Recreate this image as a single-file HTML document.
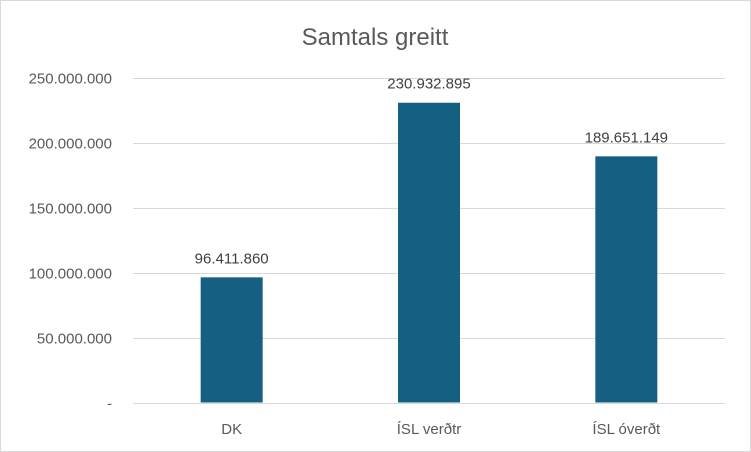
<!DOCTYPE html>
<html><head><meta charset="utf-8">
<style>
body{margin:0;background:#fff;}
#c{position:relative;width:751px;height:452px;overflow:hidden;font-family:"Liberation Sans",sans-serif;}
svg text{font-family:"Liberation Sans",sans-serif;}
</style></head>
<body>
<div id="c">
<svg id="s" width="751" height="452">
<rect x="0.5" y="0.5" width="750" height="451" fill="#fff" stroke="#d9d9d9"/>
<text x="375" y="45" text-anchor="middle" font-size="24" fill="#595959">Samtals greitt</text>
</svg>
</div>
<script>
const categories=["DK","ÍSL verðtr","ÍSL óverðt"];
const values=[96411860,230932895,189651149];
const valueLabels=["96.411.860","230.932.895","189.651.149"];
const ticks=[0,50000000,100000000,150000000,200000000,250000000];
const tickLabels=["-","50.000.000","100.000.000","150.000.000","200.000.000","250.000.000"];
const NS="http://www.w3.org/2000/svg";
const svg=document.getElementById('s');
const x0=133,x1=725,y0=402.5,yTop=78,maxV=250000000;
const yS=v=>y0-(v/maxV)*(y0-yTop);
const band=(x1-x0)/categories.length;
const xC=i=>x0+band*(i+0.5);
function mk(t,a){const e=document.createElementNS(NS,t);for(const k in a)e.setAttribute(k,a[k]);svg.appendChild(e);return e;}
ticks.forEach((t,i)=>{
  const y=Math.round(yS(t))+0.5;
  const l=mk('line',{x1:x0,x2:x1,y1:y,y2:y,stroke:'#d9d9d9','stroke-width':1});
  
  
  const tx=mk('text',{x:112,y:y+5,'text-anchor':'end','font-size':15,fill:'#595959'});
  tx.textContent=tickLabels[i];
  
  
});
values.forEach((v,i)=>{
  const w=62,cx=xC(i);
  const r=mk('rect',{x:cx-w/2,y:yS(v),width:w,height:y0-yS(v),fill:'#155F82'});
  
  
  const lb=mk('text',{x:cx,y:yS(v)-14,'text-anchor':'middle','font-size':15,fill:'#404040'});
  lb.textContent=valueLabels[i];
  
  
  const c=mk('text',{x:cx,y:434,'text-anchor':'middle','font-size':15,fill:'#595959'});
  c.textContent=categories[i];
  
  
});
</script>
</body></html>
